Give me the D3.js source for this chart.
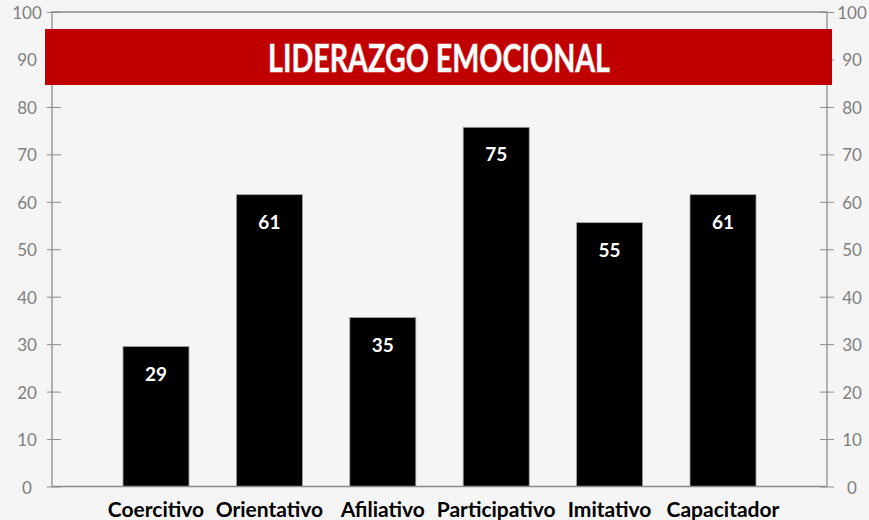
<!DOCTYPE html>
<html>
<head>
<meta charset="utf-8">
<script src="https://cdn.jsdelivr.net/npm/d3@7"></script>
<style>
  html, body { margin: 0; padding: 0; background: #f5f5f5; }
  svg { display: block; font-family: Lato, "Open Sans", sans-serif; }
</style>
</head>
<body>
<svg id="chart"></svg>
<script>
// chart data
const categories = ['Coercitivo', 'Orientativo', 'Afiliativo', 'Participativo', 'Imitativo', 'Capacitador'];
const values = [29.5, 61.5, 35.6, 75.7, 55.6, 61.5];
const valueLabels = ['29', '61', '35', '75', '55', '61'];
const yTicks = [0, 10, 20, 30, 40, 50, 60, 70, 80, 90, 100];
const title = 'LIDERAZGO EMOCIONAL';

const width = 869;
const height = 520;
const plot = { left: 52, right: 827, top: 12, bottom: 486.5 };

const svg = d3.select('#chart')
    .attr('width', width)
    .attr('height', height);

svg.append('rect')
    .attr('width', width)
    .attr('height', height)
    .attr('fill', '#f5f5f5');

const x = d3.scaleBand()
    .domain(categories)
    .range([plot.left, plot.right])
    .paddingInner(0.418)
    .paddingOuter(0.626);

const y = d3.scaleLinear()
    .domain([0, 100])
    .range([plot.bottom, plot.top]);

const axisColor = '#8c8c8c';
const labelColor = '#7f7f7f';

// Left axis
const leftAxis = svg.append('g')
    .attr('transform', `translate(${plot.left},0)`)
    .call(d3.axisLeft(y).tickValues(yTicks).tickSize(0).tickFormat(''));
leftAxis.select('.domain').remove();
leftAxis.selectAll('.tick').append('line')
    .attr('x1', -5).attr('x2', 9)
    .attr('stroke', axisColor);

// Right axis
const rightAxis = svg.append('g')
    .attr('transform', `translate(${plot.right},0)`)
    .call(d3.axisRight(y).tickValues(yTicks).tickSize(0).tickFormat(''));
rightAxis.select('.domain').remove();
rightAxis.selectAll('.tick').append('line')
    .attr('x1', -7).attr('x2', 7)
    .attr('stroke', axisColor);

// Frame lines (left, top, right)
const frame = svg.append('g').attr('stroke', axisColor).attr('stroke-width', 1.3).attr('fill', 'none');
frame.append('path')
    .attr('d', `M${plot.left},${y(0)}V${y(100)}H${plot.right}V${y(0)}`);

// Tick labels
svg.append('g').selectAll('text')
    .data(yTicks)
    .join('text')
    .attr('x', 27)
    .attr('y', d => y(d) + 7)
    .attr('text-anchor', 'middle')
    .attr('font-size', 17)
    .attr('fill', labelColor)
    .text(d => d);

svg.append('g').selectAll('text')
    .data(yTicks)
    .join('text')
    .attr('x', 852)
    .attr('y', d => y(d) + 7)
    .attr('text-anchor', 'middle')
    .attr('font-size', 17)
    .attr('fill', labelColor)
    .text(d => d);

// Bars
svg.append('g').selectAll('rect')
    .data(values)
    .join('rect')
    .attr('x', (d, i) => x(categories[i]))
    .attr('y', d => y(d))
    .attr('width', x.bandwidth())
    .attr('height', d => y(0) - y(d))
    .attr('fill', '#000')
    .attr('stroke', '#a0a0a0')
    .attr('stroke-width', 0.8);

// X axis line over bars
svg.append('line')
    .attr('x1', plot.left).attr('x2', plot.right)
    .attr('y1', y(0)).attr('y2', y(0))
    .attr('stroke', axisColor)
    .attr('stroke-width', 1.3);

// Value labels
svg.append('g').selectAll('text')
    .data(values)
    .join('text')
    .attr('x', (d, i) => x(categories[i]) + x.bandwidth() / 2)
    .attr('y', d => y(d) + 34)
    .attr('text-anchor', 'middle')
    .attr('font-size', 19)
    .attr('font-weight', 'bold')
    .attr('fill', '#fff')
    .text((d, i) => valueLabels[i]);

// Category labels
svg.append('g').selectAll('text')
    .data(categories)
    .join('text')
    .attr('x', d => x(d) + x.bandwidth() / 2)
    .attr('y', 517)
    .attr('text-anchor', 'middle')
    .attr('font-size', 21)
    .attr('font-weight', 'bold')
    .attr('fill', '#000')
    .text(d => d);

// Title banner
svg.append('rect')
    .attr('x', 45)
    .attr('y', 29)
    .attr('width', 787)
    .attr('height', 56)
    .attr('fill', '#c00000');

svg.append('text')
    .attr('x', 439)
    .attr('y', 72)
    .attr('text-anchor', 'middle')
    .attr('font-size', 38)
    .attr('font-weight', 'bold')
    .attr('fill', '#fff')
    .attr('textLength', 342)
    .attr('lengthAdjust', 'spacingAndGlyphs')
    .style('paint-order', 'stroke')
    .attr('stroke', 'rgba(255,255,255,0.35)')
    .attr('stroke-width', 1.5)
    .text(title);
</script>
</body>
</html>
